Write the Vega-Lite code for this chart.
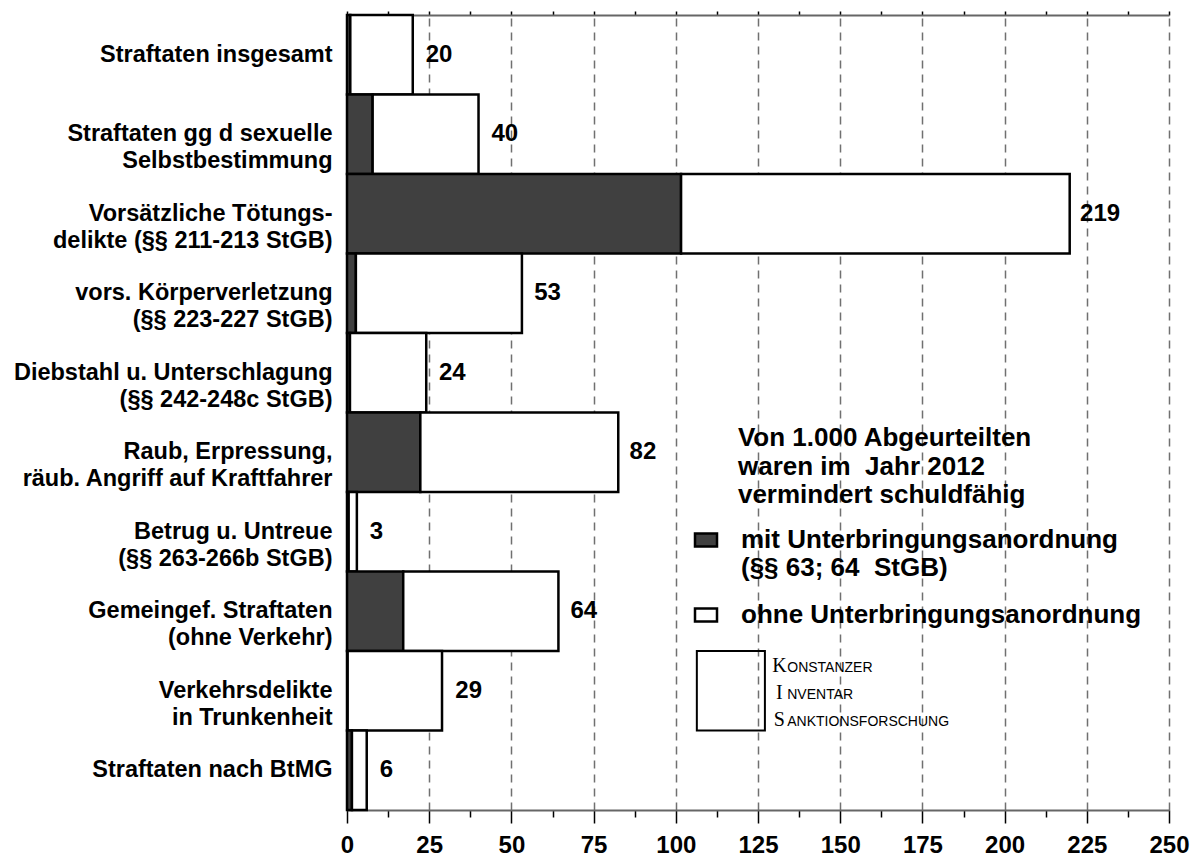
{
  "$schema": "https://vega.github.io/schema/vega-lite/v6.json",
  "width": 822,
  "height": 795,
  "autosize": {"type": "none"},
  "padding": {"left": 347, "top": 15, "right": 26, "bottom": 46},
  "background": "white",
  "config": {
    "font": "Liberation Sans",
    "view": {"stroke": null}
  },
  "datasets": {
    "balken": [
      {"kategorie": "Straftaten insgesamt\u00a0", "gruppe": "mit Unterbringungsanordnung|(§§ 63; 64\u00a0 StGB)", "wert": 1.0},
      {"kategorie": "Straftaten insgesamt\u00a0", "gruppe": "ohne Unterbringungsanordnung", "wert": 19.0},
      {"kategorie": "Straftaten gg d sexuelle\u00a0|Selbstbestimmung\u00a0", "gruppe": "mit Unterbringungsanordnung|(§§ 63; 64\u00a0 StGB)", "wert": 7.8},
      {"kategorie": "Straftaten gg d sexuelle\u00a0|Selbstbestimmung\u00a0", "gruppe": "ohne Unterbringungsanordnung", "wert": 32.2},
      {"kategorie": "Vorsätzliche Tötungs-|delikte (§§ 211-213 StGB)", "gruppe": "mit Unterbringungsanordnung|(§§ 63; 64\u00a0 StGB)", "wert": 101.6},
      {"kategorie": "Vorsätzliche Tötungs-|delikte (§§ 211-213 StGB)", "gruppe": "ohne Unterbringungsanordnung", "wert": 118.2},
      {"kategorie": "vors. Körperverletzung|(§§ 223-227 StGB)", "gruppe": "mit Unterbringungsanordnung|(§§ 63; 64\u00a0 StGB)", "wert": 2.7},
      {"kategorie": "vors. Körperverletzung|(§§ 223-227 StGB)", "gruppe": "ohne Unterbringungsanordnung", "wert": 50.5},
      {"kategorie": "Diebstahl u. Unterschlagung\u00a0|(§§ 242-248c StGB)\u00a0", "gruppe": "mit Unterbringungsanordnung|(§§ 63; 64\u00a0 StGB)", "wert": 0.9},
      {"kategorie": "Diebstahl u. Unterschlagung\u00a0|(§§ 242-248c StGB)\u00a0", "gruppe": "ohne Unterbringungsanordnung", "wert": 23.2},
      {"kategorie": "Raub, Erpressung,|räub. Angriff auf Kraftfahrer\u00a0", "gruppe": "mit Unterbringungsanordnung|(§§ 63; 64\u00a0 StGB)", "wert": 22.3},
      {"kategorie": "Raub, Erpressung,|räub. Angriff auf Kraftfahrer\u00a0", "gruppe": "ohne Unterbringungsanordnung", "wert": 60.2},
      {"kategorie": "Betrug u. Untreue\u00a0|(§§ 263-266b StGB)", "gruppe": "mit Unterbringungsanordnung|(§§ 63; 64\u00a0 StGB)", "wert": 0.5},
      {"kategorie": "Betrug u. Untreue\u00a0|(§§ 263-266b StGB)", "gruppe": "ohne Unterbringungsanordnung", "wert": 2.5},
      {"kategorie": "Gemeingef. Straftaten\u00a0|(ohne Verkehr)", "gruppe": "mit Unterbringungsanordnung|(§§ 63; 64\u00a0 StGB)", "wert": 17.1},
      {"kategorie": "Gemeingef. Straftaten\u00a0|(ohne Verkehr)", "gruppe": "ohne Unterbringungsanordnung", "wert": 47.2},
      {"kategorie": "Verkehrsdelikte\u00a0|in Trunkenheit\u00a0", "gruppe": "mit Unterbringungsanordnung|(§§ 63; 64\u00a0 StGB)", "wert": 0.2},
      {"kategorie": "Verkehrsdelikte\u00a0|in Trunkenheit\u00a0", "gruppe": "ohne Unterbringungsanordnung", "wert": 28.7},
      {"kategorie": "Straftaten nach BtMG", "gruppe": "mit Unterbringungsanordnung|(§§ 63; 64\u00a0 StGB)", "wert": 1.5},
      {"kategorie": "Straftaten nach BtMG", "gruppe": "ohne Unterbringungsanordnung", "wert": 4.5}
    ],
    "summen": [
      {"kategorie": "Straftaten insgesamt\u00a0", "summe": 20},
      {"kategorie": "Straftaten gg d sexuelle\u00a0|Selbstbestimmung\u00a0", "summe": 40},
      {"kategorie": "Vorsätzliche Tötungs-|delikte (§§ 211-213 StGB)", "summe": 219},
      {"kategorie": "vors. Körperverletzung|(§§ 223-227 StGB)", "summe": 53},
      {"kategorie": "Diebstahl u. Unterschlagung\u00a0|(§§ 242-248c StGB)\u00a0", "summe": 24},
      {"kategorie": "Raub, Erpressung,|räub. Angriff auf Kraftfahrer\u00a0", "summe": 82},
      {"kategorie": "Betrug u. Untreue\u00a0|(§§ 263-266b StGB)", "summe": 3},
      {"kategorie": "Gemeingef. Straftaten\u00a0|(ohne Verkehr)", "summe": 64},
      {"kategorie": "Verkehrsdelikte\u00a0|in Trunkenheit\u00a0", "summe": 29},
      {"kategorie": "Straftaten nach BtMG", "summe": 6}
    ],
    "hinweis": [
      {"kategorie": "Raub, Erpressung,|räub. Angriff auf Kraftfahrer\u00a0", "x": 118.9, "text": "Von 1.000 Abgeurteilten|waren im\u00a0 Jahr 2012|vermindert schuldfähig"}
    ],
    "logo": [
      {"kategorie": "Verkehrsdelikte\u00a0|in Trunkenheit\u00a0", "x": 106.4, "x2": 127.1, "xg": 131.5, "xk": 133.9, "gross": "K|I|S", "klein": "ONSTANZER|NVENTAR|ANKTIONSFORSCHUNG"}
    ]
  },
  "resolve": {"axis": {"x": "independent"}},
  "encoding": {
    "y": {
      "field": "kategorie", "type": "nominal",
      "scale": {"domain": [
        "Straftaten insgesamt\u00a0",
        "Straftaten gg d sexuelle\u00a0|Selbstbestimmung\u00a0",
        "Vorsätzliche Tötungs-|delikte (§§ 211-213 StGB)",
        "vors. Körperverletzung|(§§ 223-227 StGB)",
        "Diebstahl u. Unterschlagung\u00a0|(§§ 242-248c StGB)\u00a0",
        "Raub, Erpressung,|räub. Angriff auf Kraftfahrer\u00a0",
        "Betrug u. Untreue\u00a0|(§§ 263-266b StGB)",
        "Gemeingef. Straftaten\u00a0|(ohne Verkehr)",
        "Verkehrsdelikte\u00a0|in Trunkenheit\u00a0",
        "Straftaten nach BtMG"
      ], "paddingInner": 0, "paddingOuter": 0},
      "axis": {
        "orient": "left", "title": null, "ticks": false, "tickSize": 0,
        "domain": true, "domainColor": "black", "domainWidth": 2.5,
        "labelExpr": "split(datum.label, '|')",
        "labelFont": "Liberation Sans", "labelFontSize": 23.5, "labelFontWeight": "bold",
        "labelColor": "black", "labelLineHeight": 27, "labelPadding": 15, "labelLimit": 400,
        "labelAlign": "right", "labelBaseline": "middle"
      }
    }
  },
  "layer": [
    {
      "data": {"name": "balken"},
      "mark": {"type": "bar", "stroke": "black", "strokeWidth": 2.5},
      "encoding": {
        "x": {
          "field": "wert", "type": "quantitative", "stack": "zero",
          "scale": {"domain": [0, 250], "nice": false},
          "axis": {
            "orient": "bottom", "title": null,
            "values": [0, 12.5, 25, 37.5, 50, 62.5, 75, 87.5, 100, 112.5, 125, 137.5, 150, 162.5, 175, 187.5, 200, 212.5, 225, 237.5, 250],
            "labelExpr": "datum.value % 25 == 0 ? datum.label : ''",
            "labelFont": "Liberation Sans", "labelFontSize": 24, "labelFontWeight": "bold", "labelColor": "black",
            "labelPadding": 10, "labelFlush": false, "labelOverlap": false,
            "tickSize": {"condition": {"test": "datum.value % 25 == 0", "value": 13}, "value": 7},
            "tickColor": "black", "tickWidth": 1.5,
            "domainColor": "#666666", "domainWidth": 2,
            "grid": true, "gridDash": [8, 6], "gridColor": "#707070", "gridWidth": 1.5,
            "gridOpacity": {"condition": {"test": "datum.value % 25 == 0 && datum.value > 0", "value": 1}, "value": 0}
          }
        },
        "color": {
          "field": "gruppe", "type": "nominal",
          "scale": {"domain": ["mit Unterbringungsanordnung|(§§ 63; 64\u00a0 StGB)", "ohne Unterbringungsanordnung"], "range": ["#404040", "#ffffff"]},
          "legend": {
            "orient": "none", "legendX": 346, "legendY": 512, "title": null,
            "symbolType": "M-1,-0.6H1V0.6H-1Z", "symbolSize": 484,
            "symbolStrokeColor": "black", "symbolStrokeWidth": 2.5, "symbolOpacity": 1,
            "labelFont": "Liberation Sans", "labelFontSize": 26, "labelFontWeight": "bold", "labelColor": "black",
            "labelOffset": 22, "labelLimit": 700, "rowPadding": 21,
            "labelExpr": "split(datum.label, '|')", "labelBaseline": "middle",
            "encode": {"labels": {"update": {"lineHeight": {"value": 28}}}}
          }
        }
      }
    },
    {
      "data": {"name": "summen"},
      "mark": {"type": "text", "align": "left", "baseline": "middle", "dx": 13, "fontSize": 24, "fontWeight": "bold", "font": "Liberation Sans", "color": "black"},
      "encoding": {
        "x": {
          "field": "summe", "type": "quantitative",
          "axis": {
            "orient": "top", "title": null, "labels": false, "grid": false,
            "values": [0, 12.5, 25, 37.5, 50, 62.5, 75, 87.5, 100, 112.5, 125, 137.5, 150, 162.5, 175, 187.5, 200, 212.5, 225, 237.5, 250],
            "tickSize": 4, "tickColor": "black", "tickWidth": 1.5,
            "domainColor": "#666666", "domainWidth": 2
          }
        },
        "text": {"field": "summe", "type": "quantitative"}
      }
    },
    {
      "data": {"name": "hinweis"},
      "mark": {"type": "text", "align": "left", "baseline": "alphabetic", "dy": -6, "lineBreak": "|", "lineHeight": 28.5, "fontSize": 26, "fontWeight": "bold", "font": "Liberation Sans", "color": "black"},
      "encoding": {
        "x": {"field": "x", "type": "quantitative", "axis": null},
        "text": {"field": "text", "type": "nominal"}
      }
    },
    {
      "data": {"name": "logo"},
      "mark": {"type": "rect", "fill": null, "stroke": "black", "strokeWidth": 2},
      "encoding": {
        "x": {"field": "x", "type": "quantitative", "axis": null},
        "x2": {"field": "x2"}
      }
    },
    {
      "data": {"name": "logo"},
      "mark": {"type": "text", "align": "center", "baseline": "alphabetic", "dy": -19, "lineBreak": "|", "lineHeight": 27, "fontSize": 20, "font": "Liberation Serif", "color": "black"},
      "encoding": {
        "x": {"field": "xg", "type": "quantitative", "axis": null},
        "text": {"field": "gross", "type": "nominal"}
      }
    },
    {
      "data": {"name": "logo"},
      "mark": {"type": "text", "align": "left", "baseline": "alphabetic", "dy": -19, "lineBreak": "|", "lineHeight": 27, "fontSize": 14, "font": "Liberation Sans", "color": "black"},
      "encoding": {
        "x": {"field": "xk", "type": "quantitative", "axis": null},
        "text": {"field": "klein", "type": "nominal"}
      }
    }
  ]
}
